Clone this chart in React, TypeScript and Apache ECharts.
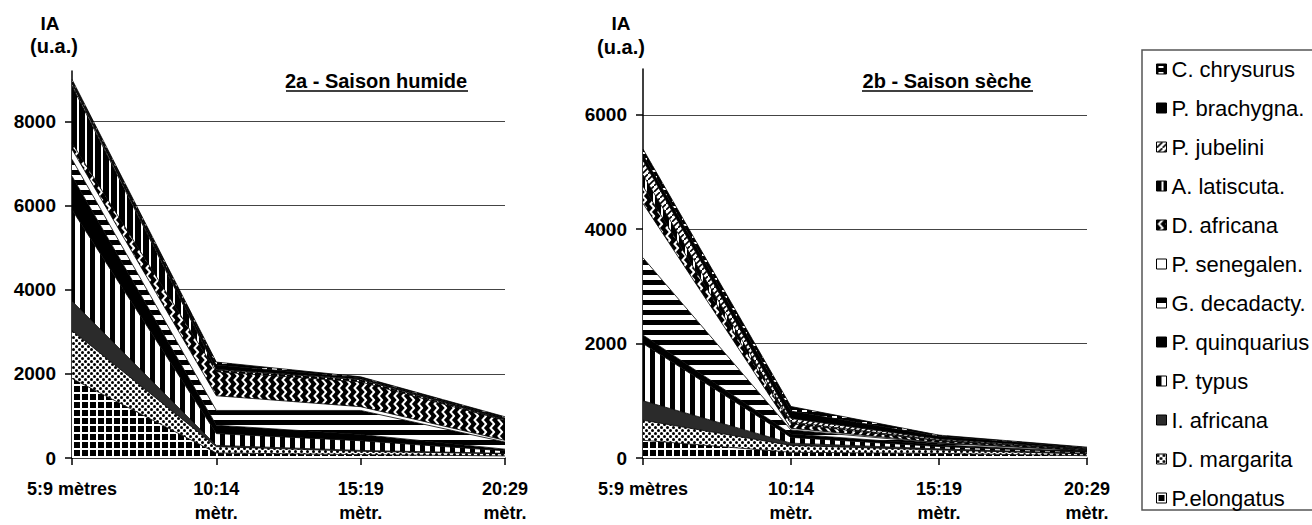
import React, { useEffect, useRef } from 'react';
import * as echarts from 'echarts';

const FONT = '"Liberation Sans", Arial, Helvetica, sans-serif';

const categories = ['5:9 mètres', '10:14\nmètr.', '15:19\nmètr.', '20:29\nmètr.'];

// species in stacking order, bottom to top
const species = [
  'P.elongatus', 'D. margarita', 'I. africana', 'P. typus', 'P. quinquarius',
  'G. decadacty.', 'P. senegalen.', 'D. africana', 'A. latiscuta.', 'P. jubelini',
  'P. brachygna.', 'C. chrysurus',
];

// legend order (top to bottom)
const legendOrder = [...species].reverse();

// 2a - Saison humide (rows follow `species`)
const wetValues = [
  [1890, 120, 80, 50],
  [1140, 150, 80, 50],
  [700, 30, 20, 10],
  [2170, 280, 230, 60],
  [800, 200, 150, 40],
  [400, 350, 570, 170],
  [240, 350, 90, 40],
  [150, 570, 590, 470],
  [1360, 40, 50, 20],
  [50, 20, 20, 10],
  [50, 100, 30, 30],
  [50, 70, 20, 30],
];

// 2b - Saison sèche (rows follow `species`)
const dryValues = [
  [310, 100, 80, 40],
  [350, 120, 60, 30],
  [340, 40, 20, 10],
  [1000, 100, 40, 20],
  [150, 60, 30, 10],
  [1350, 70, 30, 15],
  [950, 30, 10, 5],
  [300, 80, 30, 15],
  [200, 30, 10, 5],
  [250, 60, 20, 10],
  [100, 130, 50, 20],
  [100, 80, 20, 10],
];

const yTicksWet = [0, 2000, 4000, 6000, 8000];
const yTicksDry = [0, 2000, 4000, 6000];

function tile(w: number, h: number, draw: (c: CanvasRenderingContext2D) => void) {
  const cv = document.createElement('canvas');
  cv.width = w;
  cv.height = h;
  const c = cv.getContext('2d') as CanvasRenderingContext2D;
  draw(c);
  return { image: cv, repeat: 'repeat' } as any;
}

function makePatterns(): Record<string, any> {
  const solid = (col: string) => col;
  return {
    'P.elongatus': tile(8, 8, (c) => {
      c.fillStyle = '#000'; c.fillRect(0, 0, 8, 8);
      c.fillStyle = '#fff'; c.fillRect(0, 0, 8, 2); c.fillRect(0, 0, 2, 8);
    }),
    'D. margarita': tile(6, 6, (c) => {
      c.fillStyle = '#fff'; c.fillRect(0, 0, 6, 6);
      c.fillStyle = '#000';
      c.beginPath(); c.arc(1.5, 1.5, 1.5, 0, Math.PI * 2); c.fill();
      c.beginPath(); c.arc(4.5, 4.5, 1.5, 0, Math.PI * 2); c.fill();
    }),
    'I. africana': solid('#2b2b2b'),
    'P. typus': tile(10, 4, (c) => {
      c.fillStyle = '#fff'; c.fillRect(0, 0, 10, 4);
      c.fillStyle = '#000'; c.fillRect(0, 0, 5, 4);
    }),
    'P. quinquarius': solid('#000'),
    'G. decadacty.': tile(4, 10, (c) => {
      c.fillStyle = '#fff'; c.fillRect(0, 0, 4, 10);
      c.fillStyle = '#000'; c.fillRect(0, 0, 4, 5);
    }),
    'P. senegalen.': solid('#fff'),
    'D. africana': tile(8, 8, (c) => {
      c.fillStyle = '#000'; c.fillRect(0, 0, 8, 8);
      c.strokeStyle = '#fff'; c.lineWidth = 2;
      c.beginPath(); c.moveTo(6.5, -0.5); c.lineTo(2.5, 4); c.lineTo(6.5, 8.5); c.stroke();
    }),
    'A. latiscuta.': tile(8, 4, (c) => {
      c.fillStyle = '#000'; c.fillRect(0, 0, 8, 4);
      c.fillStyle = '#fff'; c.fillRect(5, 0, 2, 4);
    }),
    'P. jubelini': tile(6, 6, (c) => {
      c.fillStyle = '#fff'; c.fillRect(0, 0, 6, 6);
      c.strokeStyle = '#000'; c.lineWidth = 1.6;
      c.beginPath(); c.moveTo(-1, 7); c.lineTo(7, -1); c.stroke();
    }),
    'P. brachygna.': solid('#000'),
    'C. chrysurus': tile(10, 6, (c) => {
      c.fillStyle = '#000'; c.fillRect(0, 0, 10, 6);
      c.fillStyle = '#fff'; c.fillRect(2, 2, 5, 2);
    }),
  };
}

function App() {
  const ref = useRef<HTMLDivElement>(null);

  useEffect(() => {
    if (!ref.current) return;
    const chart = echarts.init(ref.current, null, { renderer: 'svg' });
    const patterns = makePatterns();

    const xAxisBase = (gridIndex: number) => ({
      type: 'category',
      gridIndex,
      data: categories,
      boundaryGap: false,
      axisLine: { show: true, lineStyle: { color: '#000', width: 1.5 } },
      axisTick: { show: true, length: 7, lineStyle: { color: '#000', width: 1.5 } },
      axisLabel: {
        interval: 0, margin: 19, color: '#000', fontFamily: FONT, fontWeight: 'bold',
        fontSize: 18, lineHeight: 24,
      },
      splitLine: { show: false },
    });

    const yAxisBase = (gridIndex: number, max: number, ticks: number[]) => ({
      type: 'value',
      gridIndex,
      min: 0,
      max,
      interval: 2000,
      axisLine: { show: true, lineStyle: { color: '#000', width: 1.5 } },
      axisTick: { show: true, length: 7, customValues: ticks, lineStyle: { color: '#000', width: 1.5 } },
      axisLabel: {
        customValues: ticks, margin: 16, color: '#000',
        fontFamily: FONT, fontWeight: 'bold', fontSize: 19,
        formatter: (v: number) => String(v),
      },
      splitLine: { show: true, showMinLine: false, lineStyle: { color: '#444', width: 1 } },
    });

    const mkSeries = (values: number[][], idx: number, stack: string) =>
      species.map((name, i) => ({
        name,
        type: 'line',
        xAxisIndex: idx,
        yAxisIndex: idx,
        stack,
        data: values[i],
        symbol: 'none',
        showSymbol: false,
        lineStyle: { color: '#000', width: 0.8 },
        itemStyle: { color: '#000' },
        areaStyle: { color: patterns[name], opacity: 1 },
        emphasis: { disabled: true },
      }));

    const titleGroup = (cx: number, text: string, x1: number, x2: number) => ({
      type: 'group',
      children: [
        {
          type: 'text', x: cx, y: 81,
          style: {
            text, fill: '#000', font: `bold 20px ${FONT}`, textAlign: 'center', textVerticalAlign: 'middle',
          },
        },
        { type: 'line', shape: { x1, y1: 91, x2, y2: 91 }, style: { stroke: '#000', lineWidth: 1.6 } },
      ],
    });

    const unitLabel = (cxA: number, cxU: number, y1: number, y2: number) => ([
      { type: 'text', x: cxA, y: y1, style: { text: 'IA', fill: '#000', font: `bold 19px ${FONT}`, textAlign: 'center', textVerticalAlign: 'middle' } },
      { type: 'text', x: cxU, y: y2, style: { text: '(u.a.)', fill: '#000', font: `bold 20px ${FONT}`, textAlign: 'center', textVerticalAlign: 'middle' } },
    ]);

    chart.setOption({
      animation: false,
      backgroundColor: '#fff',
      grid: [
        { left: 72, top: 71, width: 433, height: 391, containLabel: false },
        { left: 643, top: 69, width: 444, height: 392, containLabel: false },
      ],
      xAxis: [xAxisBase(0), xAxisBase(1)],
      yAxis: [yAxisBase(0, 9200, yTicksWet), yAxisBase(1, 6800, yTicksDry)],
      legend: {
        orient: 'vertical',
        left: 1142,
        top: 50,
        selectedMode: false,
        icon: 'rect',
        itemWidth: 10,
        itemHeight: 10,
        itemGap: 17,
        padding: [8, 12, 1, 14],
        borderColor: '#555',
        borderWidth: 1.5,
        textStyle: { fontFamily: FONT, fontSize: 22, color: '#000', lineHeight: 22 },
        data: legendOrder.map((name) => ({
          name,
          icon: 'rect',
          itemStyle: { color: patterns[name], borderColor: '#000', borderWidth: 1 },
        })),
      },
      graphic: [
        titleGroup(376, '2a - Saison humide', 286, 468),
        titleGroup(947, '2b - Saison sèche', 862, 1033),
        ...unitLabel(50, 54, 23, 46),
        ...unitLabel(621, 621, 23, 47),
      ],
      series: [...mkSeries(wetValues, 0, 'wet'), ...mkSeries(dryValues, 1, 'dry')],
    });

    return () => {
      chart.dispose();
    };
  }, []);

  return (
    <div
      ref={ref}
      style={{ position: 'fixed', left: 0, top: 0, width: 1312, height: 525, background: '#fff' }}
    />
  );
}

export default App;
